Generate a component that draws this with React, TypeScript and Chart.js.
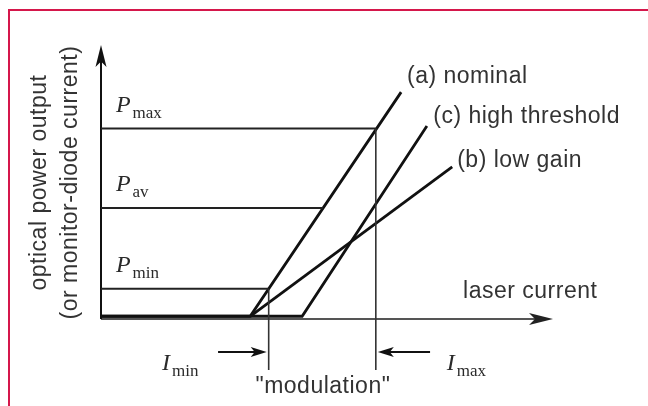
import React, { useEffect, useRef } from 'react';
import { Chart, registerables } from 'chart.js';

Chart.register(...registerables);

// Axis extents (arbitrary units): laser current across, optical power up
const CURRENT_MAX = 10;
const POWER_MAX = 10;

// Light–current characteristics
const nominalCurrent = [0, 3.3, 6.64];
const nominalPower = [0.1, 0.1, 8.28];
const highThresholdCurrent = [0, 4.45, 7.21];
const highThresholdPower = [0.1, 0.1, 7.04];
const lowGainCurrent = [3.3, 7.77];
const lowGainPower = [0.1, 5.55];

// Power reference levels and the current where each level line stops
const levelNames = ['max', 'av', 'min'];
const levelPower = [6.95, 4.05, 1.1];
const levelEndCurrent = [6.08, 4.91, 3.71];

// Modulation current limits
const limitNames = ['min', 'max'];
const limitCurrent = [3.71, 6.08];
const limitTopPower = [1.1, 6.95];
const limitBottomPower = -1.86;
const limitArrowTail = [2.59, 7.28];
const limitArrowPower = -1.2;

const curveNames = ['(a) nominal', '(c) high threshold', '(b) low gain'];
const axisTitle = ['optical power output', '(or monitor-diode current)'];
const currentTitle = 'laser current';
const modulationText = '"modulation"';

// Where the text sits, in axis units
const textLayout = {
  curves: [
    { x: 6.77, y: 8.61 },
    { x: 7.35, y: 7.15 },
    { x: 7.88, y: 5.55 },
  ],
  currentTitle: { x: 8.01, y: 0.77 },
  modulation: { x: 4.91, y: -2.7 },
  levelLabelX: 0.33,
  levelLabelLift: 0.62,
  limitLabelX: [1.35, 7.65],
  limitLabelY: -1.86,
  axisTitleX: [-1.217, -0.53],
  axisTitleY: 4.98,
};

const INK = '#111111';
const TEXT = '#333333';
const SANS = '"Liberation Sans", Arial, sans-serif';
const SERIF = '"Liberation Serif", "Times New Roman", serif';

const toPoints = (xs: number[], ys: number[]) => xs.map((x, i) => ({ x, y: ys[i] }));

function arrowHead(ctx: CanvasRenderingContext2D, x1: number, y1: number, x2: number, y2: number, len: number, half: number) {
  const a = Math.atan2(y2 - y1, x2 - x1);
  const c = Math.cos(a);
  const s = Math.sin(a);
  const bx = x2 - c * len;
  const by = y2 - s * len;
  const nx = bx + c * len * 0.25;
  const ny = by + s * len * 0.25;
  ctx.beginPath();
  ctx.moveTo(x2, y2);
  ctx.lineTo(bx - s * half, by + c * half);
  ctx.lineTo(nx, ny);
  ctx.lineTo(bx + s * half, by - c * half);
  ctx.closePath();
  ctx.fill();
}

const axesPlugin = {
  id: 'axesArrows',
  beforeDatasetsDraw(chart: any) {
    const { ctx, scales } = chart;
    const xs = scales.x;
    const ys = scales.y;
    const x0 = xs.getPixelForValue(0);
    const y0 = ys.getPixelForValue(0);
    const xEnd = xs.getPixelForValue(CURRENT_MAX);
    const yEnd = ys.getPixelForValue(POWER_MAX);
    ctx.save();
    // current axis
    ctx.strokeStyle = '#555555';
    ctx.fillStyle = '#222222';
    ctx.lineWidth = 2;
    ctx.beginPath();
    ctx.moveTo(x0, y0);
    ctx.lineTo(xEnd - 12, y0);
    ctx.stroke();
    arrowHead(ctx, x0, y0, xEnd, y0, 24, 6);
    // power axis
    ctx.strokeStyle = INK;
    ctx.fillStyle = INK;
    ctx.beginPath();
    ctx.moveTo(x0, y0);
    ctx.lineTo(x0, yEnd + 12);
    ctx.stroke();
    arrowHead(ctx, x0, y0, x0, yEnd, 22, 5.5);
    ctx.restore();
  },
};

function subscripted(ctx: CanvasRenderingContext2D, main: string, sub: string, x: number, y: number) {
  ctx.font = `italic 24px ${SERIF}`;
  ctx.textAlign = 'left';
  ctx.textBaseline = 'alphabetic';
  ctx.fillText(main, x, y);
  const w = ctx.measureText(main).width;
  ctx.font = `17px ${SERIF}`;
  ctx.fillText(sub, x + w + 2, y + 6);
}

const textPlugin = {
  id: 'diagramText',
  afterDatasetsDraw(chart: any) {
    const { ctx, scales } = chart;
    const px = (v: number) => scales.x.getPixelForValue(v);
    const py = (v: number) => scales.y.getPixelForValue(v);
    ctx.save();
    ctx.fillStyle = TEXT;
    (ctx as any).letterSpacing = '0.5px';
    ctx.font = `23px ${SANS}`;
    ctx.textBaseline = 'alphabetic';
    ctx.textAlign = 'left';
    curveNames.forEach((name, i) => {
      const p = textLayout.curves[i];
      ctx.fillText(name, px(p.x), py(p.y));
    });
    ctx.fillText(currentTitle, px(textLayout.currentTitle.x), py(textLayout.currentTitle.y));
    ctx.textAlign = 'center';
    ctx.fillText(modulationText, px(textLayout.modulation.x), py(textLayout.modulation.y));

    // rotated power-axis title
    axisTitle.forEach((line, i) => {
      ctx.save();
      ctx.translate(px(textLayout.axisTitleX[i]), py(textLayout.axisTitleY));
      ctx.rotate(-Math.PI / 2);
      ctx.textAlign = 'center';
      ctx.fillText(line, 0, 0);
      ctx.restore();
    });

    (ctx as any).letterSpacing = '0px';
    ctx.fillStyle = '#2a2a2a';
    levelNames.forEach((name, i) => {
      subscripted(ctx, 'P', name, px(textLayout.levelLabelX), py(levelPower[i] + textLayout.levelLabelLift));
    });
    limitNames.forEach((name, i) => {
      subscripted(ctx, 'I', name, px(textLayout.limitLabelX[i]), py(textLayout.limitLabelY));
    });

    // arrows pointing at the modulation limits
    ctx.strokeStyle = INK;
    ctx.fillStyle = INK;
    ctx.lineWidth = 2;
    limitCurrent.forEach((cur, i) => {
      const tx = px(limitArrowTail[i]);
      const hx = px(cur);
      const y = py(limitArrowPower);
      const dir = Math.sign(hx - tx);
      ctx.beginPath();
      ctx.moveTo(tx, y);
      ctx.lineTo(hx - dir * 10, y);
      ctx.stroke();
      arrowHead(ctx, tx, y, hx - dir * 2, y, 16, 5);
    });
    ctx.restore();
  },
};

export default function App() {
  const canvasRef = useRef<HTMLCanvasElement | null>(null);

  useEffect(() => {
    const canvas = canvasRef.current;
    if (!canvas) return;

    const curve = (label: string, xs: number[], ys: number[]) => ({
      label,
      data: toPoints(xs, ys),
      showLine: true,
      borderColor: INK,
      borderWidth: 2.8,
      pointRadius: 0,
      clip: false as const,
    });

    const datasets: any[] = [
      ...levelNames.map((name, i) => ({
        label: `P ${name}`,
        data: [
          { x: 0, y: levelPower[i] },
          { x: levelEndCurrent[i], y: levelPower[i] },
        ],
        showLine: true,
        borderColor: '#222222',
        borderWidth: 2,
        pointRadius: 0,
        clip: false,
      })),
      ...limitNames.map((name, i) => ({
        label: `I ${name}`,
        data: [
          { x: limitCurrent[i], y: limitTopPower[i] },
          { x: limitCurrent[i], y: limitBottomPower },
        ],
        showLine: true,
        borderColor: '#333333',
        borderWidth: 1.6,
        pointRadius: 0,
        clip: false,
      })),
      curve(curveNames[1], highThresholdCurrent, highThresholdPower),
      curve(curveNames[0], nominalCurrent, nominalPower),
      curve(curveNames[2], lowGainCurrent, lowGainPower),
    ];

    const chart = new Chart(canvas, {
      type: 'scatter',
      data: { datasets },
      options: {
        responsive: false,
        animation: false,
        devicePixelRatio: 1,
        layout: { padding: { left: 101, right: 95, top: 45, bottom: 87 } },
        scales: {
          x: { type: 'linear', min: 0, max: CURRENT_MAX, display: false },
          y: { type: 'linear', min: 0, max: POWER_MAX, display: false },
        },
        plugins: {
          legend: { display: false },
          tooltip: { enabled: false },
        },
        elements: { line: { tension: 0, borderCapStyle: 'butt', borderJoinStyle: 'miter' } },
      },
      plugins: [axesPlugin, textPlugin],
    });

    return () => chart.destroy();
  }, []);

  return (
    <div style={{ position: 'absolute', left: 0, top: 0, width: 648, height: 406, background: '#ffffff' }}>
      <div
        style={{
          position: 'absolute',
          left: 8,
          top: 9,
          width: 640,
          height: 397,
          boxSizing: 'border-box',
          borderTop: '2px solid #d5174b',
          borderLeft: '2px solid #d5174b',
        }}
      />
      <canvas
        ref={canvasRef}
        width={648}
        height={406}
        style={{ position: 'absolute', left: 0, top: 0, width: 648, height: 406 }}
      />
    </div>
  );
}
